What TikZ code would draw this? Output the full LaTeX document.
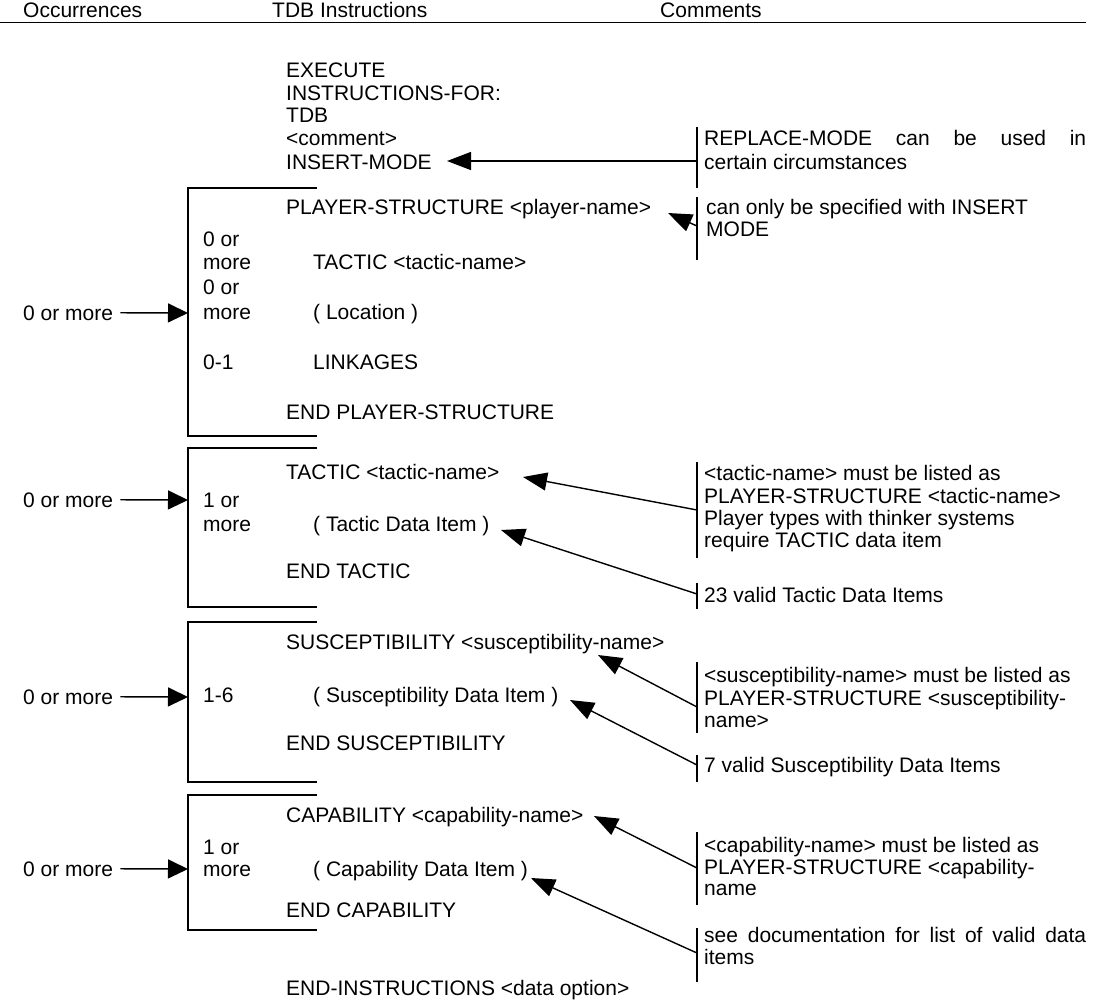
\documentclass[tikz,border=0pt]{standalone}
\usepackage{fontspec}
\setmainfont{Liberation Sans}
\usetikzlibrary{arrows.meta}
\begin{document}
\begin{tikzpicture}[x=1pt,y=-1pt,
  txt/.style={anchor=base west, inner sep=0pt, font=\fontsize{21}{23}\selectfont},
  rule/.style={line width=1pt},
  bracket/.style={line width=1.3pt},
  bar/.style={line width=1.3pt},
  pointer/.style={line width=1.4pt, -{Triangle[length=24pt,width=18pt]}},
  feed/.style={line width=1.4pt, -{Triangle[length=20pt,width=19pt]}},
]
\useasboundingbox (0,0) rectangle (1094,1002);

% column headings
\node[txt] (hOcc) at (23,17) {Occurrences};
\node[txt] (hTdb) at (272,17) {TDB Instructions};
\node[txt] (hCom) at (660,17) {Comments};
\draw[rule] (0,22) -- (1086,22);

% opening instructions
\node[txt] (exec)    at (286,77)  {EXECUTE};
\node[txt] (instr)   at (286,100) {INSTRUCTIONS-FOR:};
\node[txt] (tdb)     at (286,122) {TDB};
\node[txt] (cmt)     at (286,145) {<comment>};
\node[txt] (insmode) at (286,169) {INSERT-MODE};

\node[txt] (rep1) at (704,145) {\makebox[382pt][s]{REPLACE-MODE can be used in}};
\node[txt] (rep2) at (704,169) {certain circumstances};
\draw[bar] (697,127) -- (697,188);
\coordinate (repMid) at (697,161);
\coordinate (insTip) at (447,161);
\draw[pointer] (repMid) -- (insTip);

% player structure block
\draw[bracket] (317,188) -- (188,188) -- (188,436) -- (317,436);
\node[txt] (ps)     at (286,214) {PLAYER-STRUCTURE <player-name>};
\node[txt] (psA1)   at (203,246) {0 or};
\node[txt] (psA2)   at (203,269) {more};
\node[txt] (psTac)  at (313,269) {TACTIC <tactic-name>};
\node[txt] (psB1)   at (203,294) {0 or};
\node[txt] (psB2)   at (203,319) {more};
\node[txt] (psLoc)  at (313,319) {( Location )};
\node[txt] (psC)    at (203,369) {0-1};
\node[txt] (psLink) at (313,369) {LINKAGES};
\node[txt] (psEnd)  at (286,419) {END PLAYER-STRUCTURE};

\node[txt] (occ1) at (23,320) {0 or more};
\coordinate (b1in) at (188,313);
\draw[feed] ([xshift=7pt]occ1.east) -- (b1in);

\node[txt] (ins1) at (706,214) {can only be specified with INSERT};
\node[txt] (ins2) at (706,236) {MODE};
\draw[bar] (697,197) -- (697,260);
\coordinate (insMid) at (697,226);
\coordinate (psTip) at (668,213);
\draw[pointer] (insMid) -- (psTip);

% tactic block
\draw[bracket] (317,448) -- (188,448) -- (188,607) -- (317,607);
\node[txt] (tac)    at (286,479) {TACTIC <tactic-name>};
\node[txt] (tacA1)  at (203,507) {1 or};
\node[txt] (tacA2)  at (203,531) {more};
\node[txt] (tacDat) at (313,531) {( Tactic Data Item )};
\node[txt] (tacEnd) at (286,578) {END TACTIC};

\node[txt] (occ2) at (23,507) {0 or more};
\coordinate (b2in) at (188,500);
\draw[feed] ([xshift=7pt]occ2.east) -- (b2in);

\node[txt] (tc1) at (704,480) {<tactic-name> must be listed as};
\node[txt] (tc2) at (704,503) {PLAYER-STRUCTURE <tactic-name>};
\node[txt] (tc3) at (704,525) {Player types with thinker systems};
\node[txt] (tc4) at (704,547) {require TACTIC data item};
\draw[bar] (697,462) -- (697,558);
\coordinate (tcMid) at (697,510);
\coordinate (tacTip) at (523,477);
\draw[pointer] (tcMid) -- (tacTip);

\node[txt] (td1) at (704,602) {23 valid Tactic Data Items};
\draw[bar] (697,583) -- (697,609);
\coordinate (tdMid) at (697,594);
\coordinate (tacDatTip) at (501,530);
\draw[pointer] (tdMid) -- (tacDatTip);

% susceptibility block
\draw[bracket] (317,622) -- (188,622) -- (188,782) -- (317,782);
\node[txt] (sus)    at (286,649) {SUSCEPTIBILITY <susceptibility-name>};
\node[txt] (susA)   at (203,702) {1-6};
\node[txt] (susDat) at (313,702) {( Susceptibility Data Item )};
\node[txt] (susEnd) at (286,750) {END SUSCEPTIBILITY};

\node[txt] (occ3) at (23,704) {0 or more};
\coordinate (b3in) at (188,697);
\draw[feed] ([xshift=7pt]occ3.east) -- (b3in);

\node[txt] (sc1) at (704,682) {<susceptibility-name> must be listed as};
\node[txt] (sc2) at (704,705) {PLAYER-STRUCTURE <susceptibility-};
\node[txt] (sc3) at (704,727) {name>};
\draw[bar] (697,662) -- (697,733);
\coordinate (scMid) at (697,707);
\coordinate (susTip) at (598,655);
\draw[pointer] (scMid) -- (susTip);

\node[txt] (sd1) at (704,772) {7 valid Susceptibility Data Items};
\draw[bar] (697,755) -- (697,782);
\coordinate (sdMid) at (697,765);
\coordinate (susDatTip) at (570,700);
\draw[pointer] (sdMid) -- (susDatTip);

% capability block
\draw[bracket] (317,795) -- (188,795) -- (188,930) -- (317,930);
\node[txt] (cap)    at (286,822) {CAPABILITY <capability-name>};
\node[txt] (capA1)  at (203,854) {1 or};
\node[txt] (capA2)  at (203,876) {more};
\node[txt] (capDat) at (313,876) {( Capability Data Item )};
\node[txt] (capEnd) at (286,917) {END CAPABILITY};

\node[txt] (occ4) at (23,876) {0 or more};
\coordinate (b4in) at (188,869);
\draw[feed] ([xshift=7pt]occ4.east) -- (b4in);

\node[txt] (cc1) at (704,852) {<capability-name> must be listed as};
\node[txt] (cc2) at (704,874) {PLAYER-STRUCTURE <capability-};
\node[txt] (cc3) at (704,895) {name};
\draw[bar] (697,832) -- (697,905);
\coordinate (ccMid) at (697,868);
\coordinate (capTip) at (594,816);
\draw[pointer] (ccMid) -- (capTip);

\node[txt] (cd1) at (704,942) {\makebox[382pt][s]{see documentation for list of valid data}};
\node[txt] (cd2) at (704,964) {items};
\draw[bar] (697,928) -- (697,982);
\coordinate (cdMid) at (697,953);
\coordinate (capDatTip) at (531,878);
\draw[pointer] (cdMid) -- (capDatTip);

% closing instruction
\node[txt] (endins) at (286,995) {END-INSTRUCTIONS <data option>};
\end{tikzpicture}
\end{document}
